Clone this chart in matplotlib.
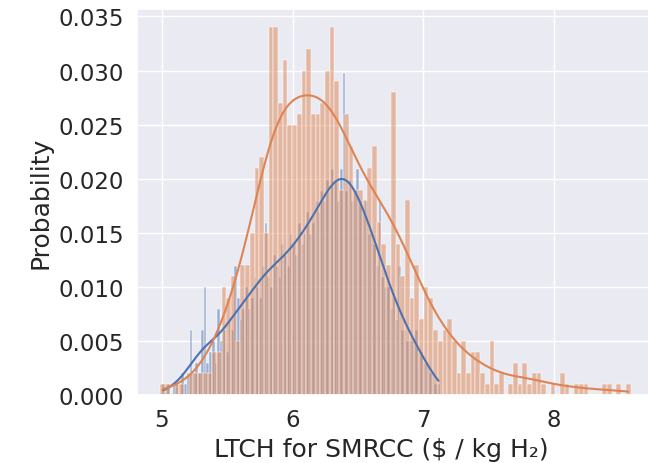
import numpy as np
import pandas as pd
import matplotlib
matplotlib.use("Agg")
import matplotlib.pyplot as plt
import seaborn as sns

# ---- data (probability per bin, 100 bins each) ----
orange_range = (4.99, 8.586)
blue_range = (5.00, 7.127)

orange_probs = [
    0.001, 0.001, 0.000, 0.001, 0.001, 0.000, 0.002, 0.002, 0.002, 0.002,
    0.002, 0.004, 0.004, 0.010, 0.009, 0.011, 0.005, 0.012, 0.012, 0.015,
    0.021, 0.022, 0.015, 0.034, 0.034, 0.027, 0.031, 0.025, 0.025, 0.026,
    0.030, 0.032, 0.026, 0.026, 0.027, 0.030, 0.034, 0.029, 0.019, 0.026,
    0.023, 0.019, 0.019, 0.018, 0.021, 0.023, 0.016, 0.014, 0.012, 0.028,
    0.014, 0.011, 0.018, 0.009, 0.012, 0.007, 0.010, 0.009, 0.006, 0.005,
    0.006, 0.007, 0.005, 0.002, 0.005, 0.002, 0.004, 0.004, 0.002, 0.001,
    0.005, 0.001, 0.002, 0.000, 0.001, 0.003, 0.001, 0.003, 0.001, 0.002,
    0.002, 0.001, 0.000, 0.001, 0.000, 0.002, 0.001, 0.000, 0.001, 0.001,
    0.001, 0.000, 0.000, 0.000, 0.001, 0.001, 0.000, 0.001, 0.000, 0.001,
]

blue_probs = [
    0.001, 0.000, 0.001, 0.000, 0.001, 0.001, 0.000, 0.002, 0.001, 0.002,
    0.006, 0.002, 0.003, 0.002, 0.006, 0.010, 0.003, 0.004, 0.005, 0.003,
    0.008, 0.005, 0.006, 0.004, 0.007, 0.006, 0.012, 0.009, 0.007, 0.008,
    0.010, 0.008, 0.009, 0.011, 0.010, 0.009, 0.012, 0.016, 0.011, 0.010,
    0.013, 0.012, 0.011, 0.014, 0.013, 0.012, 0.015, 0.014, 0.013, 0.016,
    0.014, 0.015, 0.017, 0.015, 0.016, 0.018, 0.017, 0.019, 0.018, 0.020,
    0.019, 0.021, 0.020, 0.018, 0.021, 0.030, 0.019, 0.020, 0.018, 0.019,
    0.021, 0.018, 0.017, 0.018, 0.015, 0.015, 0.014, 0.012, 0.018, 0.011,
    0.010, 0.010, 0.008, 0.009, 0.007, 0.012, 0.006, 0.006, 0.005, 0.005,
    0.005, 0.006, 0.004, 0.004, 0.003, 0.003, 0.002, 0.002, 0.001, 0.001,
]

x_ticks = [5, 6, 7, 8]
x_label = "LTCH for SMRCC ($ / kg H₂)"
y_label = "Probability"

# ---- plotting ----
sns.set_theme(style="darkgrid", font_scale=1.5)
plt.rcParams["font.family"] = ["DejaVu Sans"]
palette = sns.color_palette("deep")

fig = plt.figure(figsize=(6.48, 4.64), dpi=100)
ax = fig.add_axes([0.2114, 0.1466, 0.798, 0.832])


def draw(probs, rng, color, bw):
    n = len(probs)
    edges = np.linspace(rng[0], rng[1], n + 1)
    centers = (edges[:-1] + edges[1:]) / 2
    df = pd.DataFrame({"x": centers, "w": np.asarray(probs, dtype=float)})
    sns.histplot(data=df, x="x", weights="w", bins=n, binrange=rng,
                 stat="probability", kde=True, color=color,
                 kde_kws=dict(bw_adjust=bw), ax=ax)


draw(blue_probs, blue_range, palette[0], 0.52)
draw(orange_probs, orange_range, palette[1], 0.6)

for ln in ax.lines:
    ln.set_zorder(4)

ax.set_xticks(x_ticks)
ax.set_xlabel(x_label)
ax.set_ylabel(y_label)
ax.xaxis.label.set_x(0.473)

fig.savefig("out.png", dpi=100)
